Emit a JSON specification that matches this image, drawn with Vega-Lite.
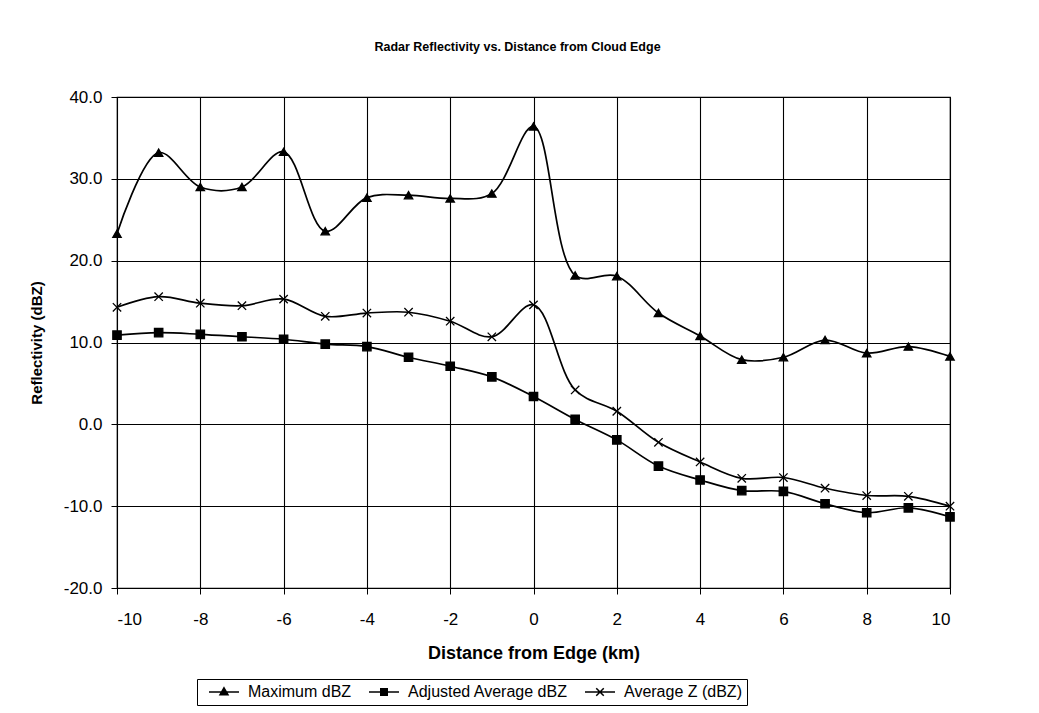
{
  "$schema": "https://vega.github.io/schema/vega-lite/v6.json",
  "width": 833,
  "height": 491,
  "autosize": "none",
  "padding": {"left": 117, "top": 97, "right": 89, "bottom": 125},
  "background": "white",
  "title": {
    "text": "Radar Reflectivity vs. Distance from Cloud Edge",
    "font": "Liberation Sans",
    "fontSize": 12.5,
    "fontWeight": "bold",
    "color": "black",
    "anchor": "middle",
    "dx": -16,
    "offset": 35
  },
  "config": {
    "font": "Liberation Sans",
    "view": {"stroke": "black", "strokeWidth": 1.2},
    "axis": {
      "gridColor": "black",
      "gridOpacity": 1,
      "gridWidth": 1.1,
      "domainColor": "black",
      "tickColor": "black",
      "tickSize": 6,
      "labelColor": "black",
      "labelFont": "Liberation Sans",
      "labelFontSize": 17,
      "titleColor": "black",
      "titleFont": "Liberation Sans"
    }
  },
  "data": {
    "values": [
      {"x": -10, "series": "Maximum dBZ", "v": 23.3},
      {"x": -9, "series": "Maximum dBZ", "v": 33.2},
      {"x": -8, "series": "Maximum dBZ", "v": 29.0},
      {"x": -7, "series": "Maximum dBZ", "v": 29.0},
      {"x": -6, "series": "Maximum dBZ", "v": 33.3},
      {"x": -5, "series": "Maximum dBZ", "v": 23.6},
      {"x": -4, "series": "Maximum dBZ", "v": 27.7},
      {"x": -3, "series": "Maximum dBZ", "v": 28.0},
      {"x": -2, "series": "Maximum dBZ", "v": 27.6},
      {"x": -1, "series": "Maximum dBZ", "v": 28.2},
      {"x": 0, "series": "Maximum dBZ", "v": 36.4},
      {"x": 1, "series": "Maximum dBZ", "v": 18.2},
      {"x": 2, "series": "Maximum dBZ", "v": 18.1},
      {"x": 3, "series": "Maximum dBZ", "v": 13.6},
      {"x": 4, "series": "Maximum dBZ", "v": 10.8},
      {"x": 5, "series": "Maximum dBZ", "v": 7.9},
      {"x": 6, "series": "Maximum dBZ", "v": 8.2},
      {"x": 7, "series": "Maximum dBZ", "v": 10.3},
      {"x": 8, "series": "Maximum dBZ", "v": 8.7},
      {"x": 9, "series": "Maximum dBZ", "v": 9.5},
      {"x": 10, "series": "Maximum dBZ", "v": 8.3},
      {"x": -10, "series": "Adjusted Average dBZ", "v": 10.9},
      {"x": -9, "series": "Adjusted Average dBZ", "v": 11.2},
      {"x": -8, "series": "Adjusted Average dBZ", "v": 11.0},
      {"x": -7, "series": "Adjusted Average dBZ", "v": 10.7},
      {"x": -6, "series": "Adjusted Average dBZ", "v": 10.4},
      {"x": -5, "series": "Adjusted Average dBZ", "v": 9.8},
      {"x": -4, "series": "Adjusted Average dBZ", "v": 9.5},
      {"x": -3, "series": "Adjusted Average dBZ", "v": 8.2},
      {"x": -2, "series": "Adjusted Average dBZ", "v": 7.1},
      {"x": -1, "series": "Adjusted Average dBZ", "v": 5.8},
      {"x": 0, "series": "Adjusted Average dBZ", "v": 3.4},
      {"x": 1, "series": "Adjusted Average dBZ", "v": 0.6},
      {"x": 2, "series": "Adjusted Average dBZ", "v": -1.9},
      {"x": 3, "series": "Adjusted Average dBZ", "v": -5.1},
      {"x": 4, "series": "Adjusted Average dBZ", "v": -6.8},
      {"x": 5, "series": "Adjusted Average dBZ", "v": -8.1},
      {"x": 6, "series": "Adjusted Average dBZ", "v": -8.2},
      {"x": 7, "series": "Adjusted Average dBZ", "v": -9.7},
      {"x": 8, "series": "Adjusted Average dBZ", "v": -10.8},
      {"x": 9, "series": "Adjusted Average dBZ", "v": -10.2},
      {"x": 10, "series": "Adjusted Average dBZ", "v": -11.3},
      {"x": -10, "series": "Average Z (dBZ)", "v": 14.3},
      {"x": -9, "series": "Average Z (dBZ)", "v": 15.6},
      {"x": -8, "series": "Average Z (dBZ)", "v": 14.8},
      {"x": -7, "series": "Average Z (dBZ)", "v": 14.5},
      {"x": -6, "series": "Average Z (dBZ)", "v": 15.3},
      {"x": -5, "series": "Average Z (dBZ)", "v": 13.2},
      {"x": -4, "series": "Average Z (dBZ)", "v": 13.6},
      {"x": -3, "series": "Average Z (dBZ)", "v": 13.7},
      {"x": -2, "series": "Average Z (dBZ)", "v": 12.6},
      {"x": -1, "series": "Average Z (dBZ)", "v": 10.7},
      {"x": 0, "series": "Average Z (dBZ)", "v": 14.6},
      {"x": 1, "series": "Average Z (dBZ)", "v": 4.2},
      {"x": 2, "series": "Average Z (dBZ)", "v": 1.6},
      {"x": 3, "series": "Average Z (dBZ)", "v": -2.2},
      {"x": 4, "series": "Average Z (dBZ)", "v": -4.6},
      {"x": 5, "series": "Average Z (dBZ)", "v": -6.6},
      {"x": 6, "series": "Average Z (dBZ)", "v": -6.5},
      {"x": 7, "series": "Average Z (dBZ)", "v": -7.8},
      {"x": 8, "series": "Average Z (dBZ)", "v": -8.7},
      {"x": 9, "series": "Average Z (dBZ)", "v": -8.8},
      {"x": 10, "series": "Average Z (dBZ)", "v": -10.0}
    ]
  },
  "encoding": {
    "x": {
      "field": "x",
      "type": "quantitative",
      "scale": {"domain": [-10, 10], "nice": false, "zero": false},
      "axis": {
        "values": [-10, -8, -6, -4, -2, 0, 2, 4, 6, 8, 10],
        "labelExpr": "(datum.value < 0 ? '-' : '') + abs(datum.value)",
        "title": "Distance from Edge (km)",
        "titleFontSize": 18,
        "titleFontWeight": "bold",
        "titlePadding": 17,
        "labelPadding": 17,
        "grid": true
      }
    },
    "y": {
      "field": "v",
      "type": "quantitative",
      "scale": {"domain": [-20, 40], "nice": false, "zero": false},
      "axis": {
        "values": [-20, -10, 0, 10, 20, 30, 40],
        "labelExpr": "(datum.value < 0 ? '-' : '') + format(abs(datum.value), '.1f')",
        "title": "Reflectivity (dBZ)",
        "titleFontSize": 15,
        "titleFontWeight": "bold",
        "titlePadding": 19,
        "labelPadding": 9,
        "grid": true
      }
    }
  },
  "layer": [
    {
      "mark": {"type": "line", "interpolate": "catmull-rom", "color": "black", "strokeWidth": 1.7},
      "encoding": {"detail": {"field": "series"}}
    },
    {
      "mark": {"type": "point", "filled": true, "fill": "black", "stroke": "black", "strokeWidth": 1.3, "opacity": 1, "size": 70},
      "encoding": {
        "shape": {
          "field": "series",
          "type": "nominal",
          "scale": {
            "domain": ["Maximum dBZ", "Adjusted Average dBZ", "Average Z (dBZ)"],
            "range": ["triangle-up", "square", "M-1,-1L1,1M-1,1L1,-1"]
          },
          "legend": null
        }
      }
    },
    {
      "mark": {"type": "point", "filled": false, "fill": "black", "stroke": "black", "strokeWidth": 1.3, "opacity": 0, "size": 100},
      "encoding": {
        "shape": {
          "field": "series",
          "type": "nominal",
          "scale": {
            "domain": ["Maximum dBZ", "Adjusted Average dBZ", "Average Z (dBZ)"],
            "range": [
              "M-3,0H3M0,-0.85L0.8,0.55L-0.8,0.55Z",
              "M-3,0H3M-0.65,-0.65H0.65V0.65H-0.65Z",
              "M-3,0H3M-0.75,-0.75L0.75,0.75M-0.75,0.75L0.75,-0.75"
            ]
          },
          "legend": {
            "orient": "none",
            "legendX": 80,
            "legendY": 582,
            "direction": "horizontal",
            "title": null,
            "strokeColor": "black",
            "padding": 5,
            "labelFont": "Liberation Sans",
            "labelFontSize": 16,
            "labelColor": "black",
            "symbolSize": 100,
            "symbolOffset": 14,
            "labelOffset": 16,
            "columnPadding": 10,
            "encode": {
              "symbols": {
                "opacity": {"value": 1},
                "stroke": {"value": "black"},
                "strokeWidth": {"value": 1.3},
                "fill": {"value": "black"}
              }
            }
          }
        }
      }
    }
  ],
  "resolve": {"scale": {"shape": "independent"}}
}
